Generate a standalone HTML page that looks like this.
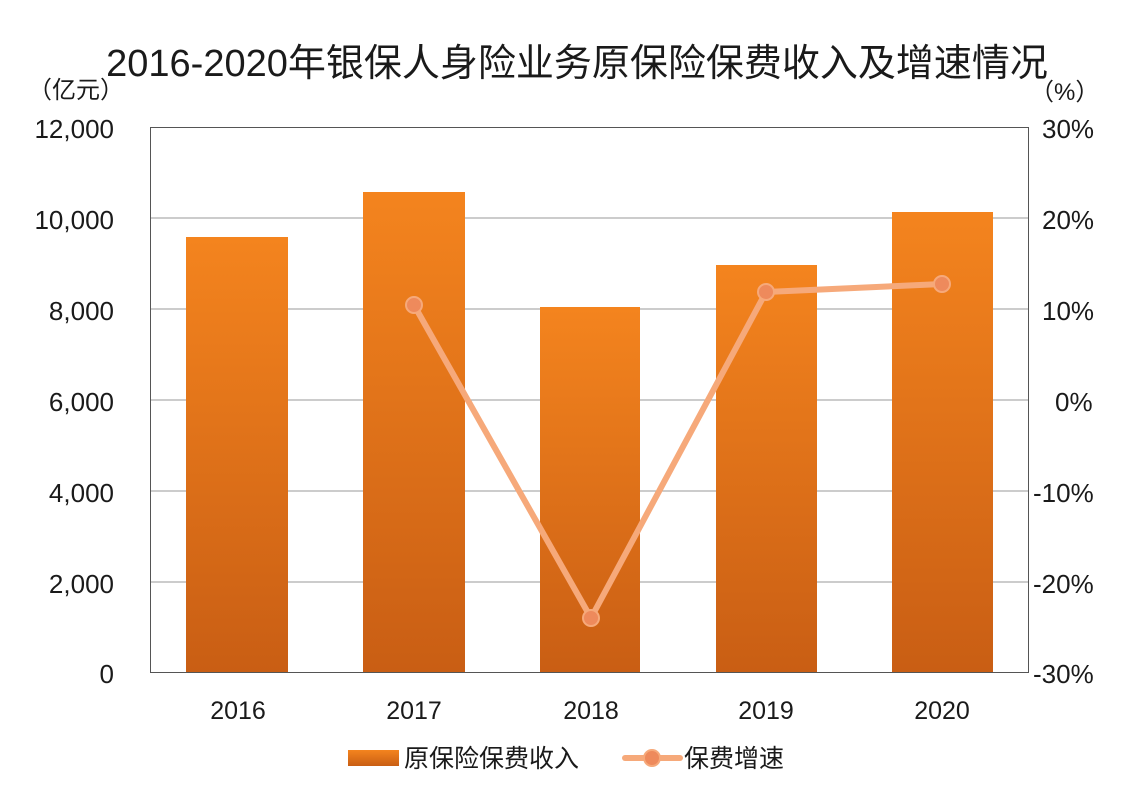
<!DOCTYPE html>
<html><head><meta charset="utf-8"><style>
html,body{margin:0;padding:0;background:#fff;}
svg text{font-family:"Liberation Sans","Noto Sans CJK SC",sans-serif;fill:#1a1a1a;}
</style></head><body>
<svg width="1128" height="800" viewBox="0 0 1128 800" xmlns="http://www.w3.org/2000/svg">
<defs>
<linearGradient id="g" x1="0" y1="0" x2="0" y2="1">
<stop offset="0" stop-color="#f4841e"/>
<stop offset="1" stop-color="#c95e14"/>
</linearGradient>
</defs>
<rect width="1128" height="800" fill="#fff"/>
<text x="577" y="76" font-size="38" text-anchor="middle">2016-2020年银保人身险业务原保险保费收入及增速情况</text>
<text x="28" y="98" font-size="24">（亿元）</text>
<text x="1030" y="100" font-size="24">（%）</text>
<g stroke="#999" stroke-width="1">
<line x1="150" y1="218" x2="1028" y2="218"/>
<line x1="150" y1="309" x2="1028" y2="309"/>
<line x1="150" y1="400" x2="1028" y2="400"/>
<line x1="150" y1="491" x2="1028" y2="491"/>
<line x1="150" y1="582" x2="1028" y2="582"/>
</g>
<rect x="150.5" y="127.5" width="878" height="545" fill="none" stroke="#555" stroke-width="1"/>
<g fill="url(#g)">
<rect x="186" y="237" width="102" height="435"/>
<rect x="363" y="192" width="102" height="480"/>
<rect x="540" y="307" width="100" height="365"/>
<rect x="716" y="265" width="101" height="407"/>
<rect x="892" y="212" width="101" height="460"/>
</g>
<polyline points="414,305 591,618 766,292 942,284" fill="none" stroke="#f6a97a" stroke-width="6" stroke-linejoin="round"/>
<g fill="#ee8a5c" stroke="#f6a97a" stroke-width="2">
<circle cx="414" cy="305" r="8"/><circle cx="591" cy="618" r="8"/><circle cx="766" cy="292" r="8"/><circle cx="942" cy="284" r="8"/>
</g>
<g font-size="26" text-anchor="end">
<text x="114" y="138">12,000</text>
<text x="114" y="229">10,000</text>
<text x="114" y="320">8,000</text>
<text x="114" y="411">6,000</text>
<text x="114" y="502">4,000</text>
<text x="114" y="593">2,000</text>
<text x="114" y="683">0</text>
</g>
<g font-size="26" text-anchor="start">
<text x="1042" y="138">30%</text>
<text x="1042" y="229">20%</text>
<text x="1042" y="320">10%</text>
<text x="1055" y="411">0%</text>
<text x="1033" y="502">-10%</text>
<text x="1033" y="593">-20%</text>
<text x="1033" y="683">-30%</text>
</g>
<g font-size="25" text-anchor="middle">
<text x="238" y="719">2016</text>
<text x="414" y="719">2017</text>
<text x="591" y="719">2018</text>
<text x="766" y="719">2019</text>
<text x="942" y="719">2020</text>
</g>
<rect x="348" y="750" width="51" height="16" fill="url(#g)"/>
<text x="404" y="767" font-size="25">原保险保费收入</text>
<line x1="625" y1="758" x2="680" y2="758" stroke="#f6a97a" stroke-width="6" stroke-linecap="round"/>
<circle cx="652" cy="758" r="8" fill="#ee8a5c" stroke="#f6a97a" stroke-width="2"/>
<text x="684" y="767" font-size="25">保费增速</text>
</svg>
</body></html>
